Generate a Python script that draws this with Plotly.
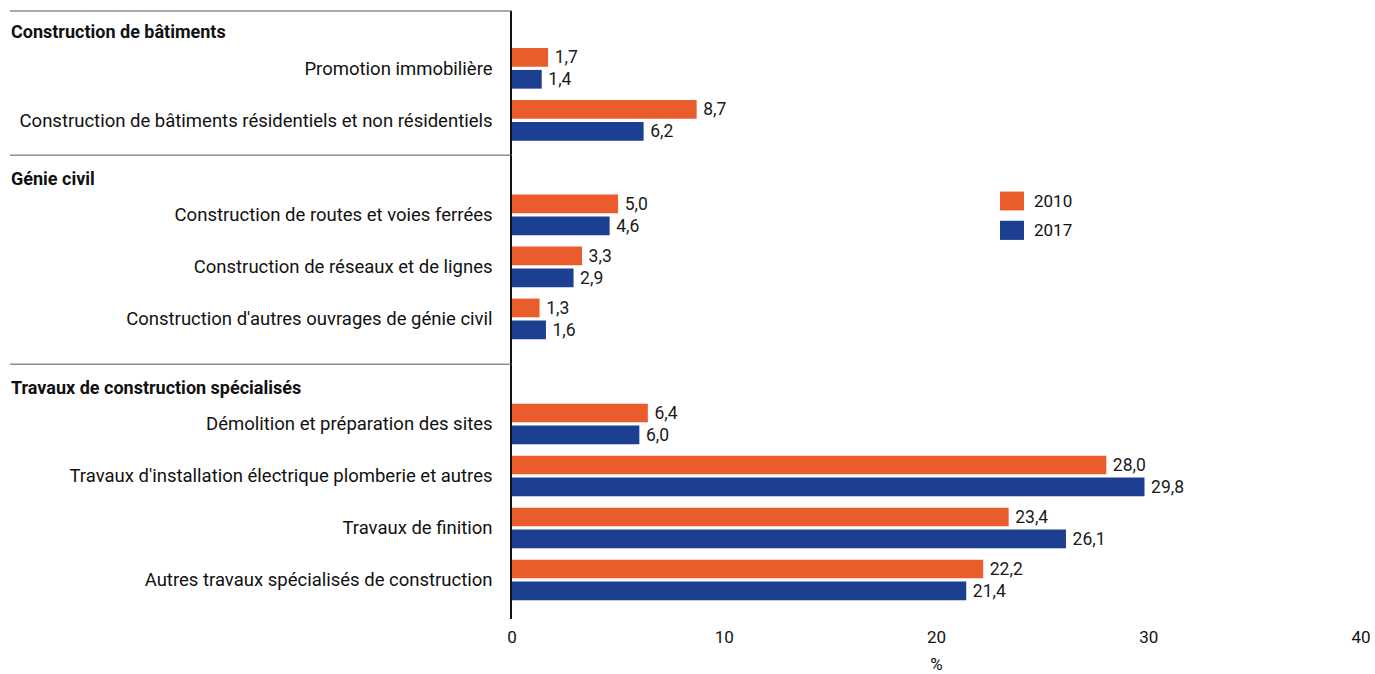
import plotly.graph_objects as go

# ---- data -------------------------------------------------------------
groups = [
    "Construction de bâtiments",
    "Génie civil",
    "Travaux de construction spécialisés",
]
categories = [
    "Promotion immobilière",
    "Construction de bâtiments résidentiels et non résidentiels",
    "Construction de routes et voies ferrées",
    "Construction de réseaux et de lignes",
    "Construction d'autres ouvrages de génie civil",
    "Démolition et préparation des sites",
    "Travaux d'installation électrique plomberie et autres",
    "Travaux de finition",
    "Autres travaux spécialisés de construction",
]
category_group = [0, 0, 1, 1, 1, 2, 2, 2, 2]
values_2010 = [1.7, 8.7, 5.0, 3.3, 1.3, 6.4, 28.0, 23.4, 22.2]
values_2017 = [1.4, 6.2, 4.6, 2.9, 1.6, 6.0, 29.8, 26.1, 21.4]
series_names = ["2010", "2017"]
x_ticks = [0, 10, 20, 30, 40]

# ---- styling / layout constants -------------------------------------------
ORANGE = "#EA5C2B"
BLUE = "#1D3F91"
FONT = "Roboto"
W, H = 1375, 674
M_L, M_R, M_T, M_B = 512, 14, 11, 55
PLOT_W = W - M_L - M_R
PLOT_H = H - M_T - M_B
GROUP_SPACING = {1: 1.82, 2: 2.02}   # extra room before each group header
HEADER_OFFSET = -0.70               # header position relative to first row
RULE_OFFSET = -1.15                 # separator line relative to first row

# row positions on a numeric axis, one unit per category
positions = []
y = 0.0
for i, g in enumerate(category_group):
    if i > 0:
        y += GROUP_SPACING[g] if g != category_group[i - 1] else 1.0
    positions.append(round(y, 4))

y_top = -1.102
y_bottom = y_top + PLOT_H / 52.0

fig = go.Figure()
for name, vals, color in zip(series_names, [values_2010, values_2017], [ORANGE, BLUE]):
    fig.add_trace(go.Bar(
        name=name,
        x=vals,
        y=positions,
        orientation="h",
        marker=dict(color=color, line=dict(width=0)),
        texttemplate="\u2009%{x:.1f}",
        textposition="outside",
        constraintext="none",
        cliponaxis=False,
        textfont=dict(family=FONT, size=17.5, color="#1a1a1a"),
        showlegend=False,
        hoverinfo="x+name",
    ))

shapes = []
annotations = []

# group headers and separator rules
first_rows = [positions[category_group.index(g)] for g in range(len(groups))]
rule_x0 = (10 - M_L) / PLOT_W
for g, name in enumerate(groups):
    annotations.append(dict(
        text=f"<b>{name}</b>", xref="paper", yref="y",
        x=(9 - M_L) / PLOT_W, y=first_rows[g] + HEADER_OFFSET,
        xanchor="left", yanchor="middle", showarrow=False,
        font=dict(family=FONT, size=18, color="#111"),
    ))
    if g == 0:
        shapes.append(dict(type="line", xref="paper", yref="paper",
                           x0=rule_x0, x1=0, y0=1, y1=1,
                           line=dict(color="#555", width=1)))
    else:
        yy = first_rows[g] + RULE_OFFSET
        shapes.append(dict(type="line", xref="paper", yref="y",
                           x0=rule_x0, x1=0, y0=yy, y1=yy,
                           line=dict(color="#555", width=1)))

# legend swatches
legend_items = [(series_names[0], ORANGE, 0.703, 0.672), (series_names[1], BLUE, 0.655, 0.6235)]
for name, color, y1, y0 in legend_items:
    shapes.append(dict(type="rect", xref="paper", yref="paper",
                       x0=(1000 - M_L) / PLOT_W, x1=(1024 - M_L) / PLOT_W,
                       y0=y0, y1=y1, fillcolor=color, line=dict(width=0)))
    annotations.append(dict(
        text=name, xref="paper", yref="paper",
        x=(1032 - M_L) / PLOT_W, y=(y0 + y1) / 2,
        xanchor="left", yanchor="middle", showarrow=False,
        font=dict(family=FONT, size=17, color="#111"),
    ))

fig.update_layout(
    width=W, height=H,
    margin=dict(l=M_L, r=M_R, t=M_T, b=M_B, pad=0, autoexpand=False),
    paper_bgcolor="white", plot_bgcolor="white",
    barmode="group", bargap=0.154, bargroupgap=0.149,
    separators=", ",
    font=dict(family=FONT, size=17, color="#111"),
    shapes=shapes, annotations=annotations,
    showlegend=False,
)
fig.update_xaxes(
    range=[0, 40], tickvals=x_ticks, ticks="", showgrid=False,
    zeroline=False, showline=False, automargin=False,
    ticklabelstandoff=6,
    tickfont=dict(family=FONT, size=17, color="#111"),
    title=dict(text="%", font=dict(family=FONT, size=17, color="#111"), standoff=19),
)
fig.update_yaxes(
    range=[y_bottom, y_top], tickvals=positions, ticktext=categories,
    ticks="", showgrid=False, zeroline=False, automargin=False,
    showline=True, linecolor="#111", linewidth=1.5,
    ticklabelstandoff=14,
    tickfont=dict(family=FONT, size=18.5, color="#111"),
)

fig.write_html("out.html")
